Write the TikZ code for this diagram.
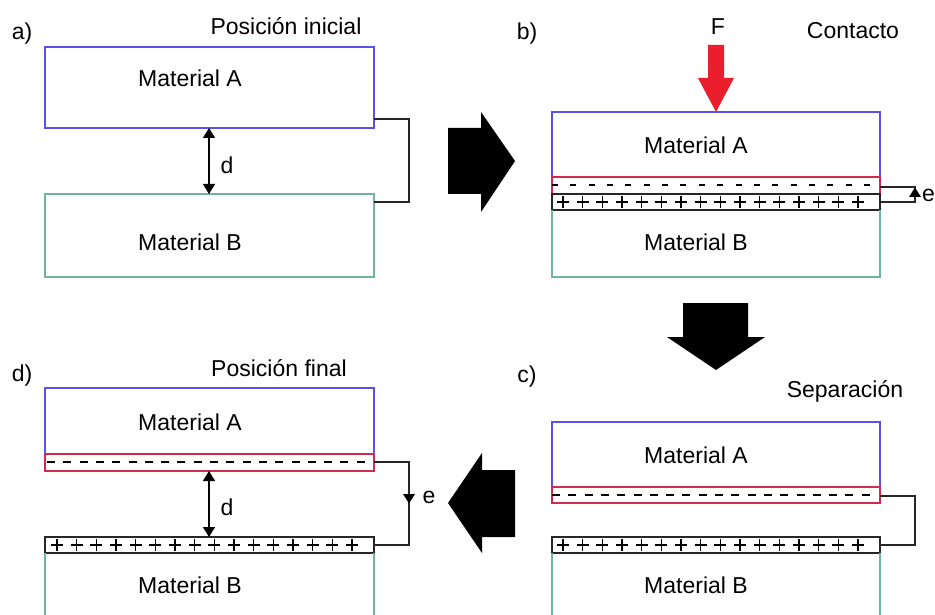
\documentclass[tikz,border=0pt]{standalone}
\usepackage{fontspec}
\setmainfont{Liberation Sans}
\usetikzlibrary{arrows.meta}
\definecolor{matA}{RGB}{90,80,240}
\definecolor{matB}{RGB}{110,180,160}
\definecolor{negc}{RGB}{215,40,80}
\definecolor{forcec}{RGB}{235,30,45}
\begin{document}
\begin{tikzpicture}[x=1pt,y=-1pt,
  every node/.style={font=\fontsize{23}{27}\selectfont, inner sep=0pt},
  boxA/.style={draw=matA, line width=1.3pt},
  boxB/.style={draw=matB, line width=1.3pt},
  negstrip/.style={draw=negc, line width=1.3pt},
  posstrip/.style={draw=black!85, line width=1.3pt},
  wire/.style={draw=black!85, line width=1.2pt},
  sign/.style={draw=black, line width=1.4pt},
  gap/.style={draw=black, line width=1.4pt, {Triangle[width=12pt,length=10pt]}-{Triangle[width=12pt,length=10pt]}},
  block/.style={fill=black, draw=none},
  tri/.style={fill=black, draw=none}]
\clip (0,0) rectangle (935,615);
\fill[white] (0,0) rectangle (935,615);

% ---------- panel a ----------
\node (la) at (22,34) {a)};
\node (ta) at (286,26) {Posición inicial};
\draw[boxA] (45,47) rectangle (374,128);
\draw[boxB] (45,194) rectangle (374,277);
\node (aA) at (190,78) {Material A};
\node (aB) at (190,242) {Material B};
\coordinate (aTop) at (209,128);
\coordinate (aBot) at (209,194);
\draw[gap] (aTop) -- (aBot);
\node (ad) at (227,165) {d};
\coordinate (aw1) at (374,119);
\coordinate (aw2) at (374,202);
\draw[wire] (aw1) -- (409,119) -- (409,202) -- (aw2);

% arrow a -> b
\fill[block] (448,128) -- (481,128) -- (481,112) -- (515,161) -- (481,212) -- (481,194) -- (448,194) -- cycle;

% ---------- panel b ----------
\node (lb) at (527,34) {b)};
\node (tF) at (718,27) {F};
\node (tb) at (853,31) {Contacto};
\fill[forcec] (708,45) -- (724,45) -- (724,78) -- (734,78) -- (716,112) -- (698,78) -- (708,78) -- cycle;
\draw[boxA] (552,177) -- (552,112) -- (880,112) -- (880,177);
\draw[negstrip] (552,177) rectangle (880,194);
\draw[posstrip] (552,194) rectangle (880,210);
\draw[boxB] (552,210) -- (552,277) -- (880,277) -- (880,210);
\node (bA) at (696,145) {Material A};
\node (bB) at (696,242) {Material B};
\foreach \i in {0,...,17} \draw[sign] ({555+\i*18.35-3},185) -- ++(6,0);
\foreach \i in {0,...,15} \draw[sign] ({563+\i*19.67-6},202) -- ++(12,0) ({563+\i*19.67},196) -- ++(0,12);
\coordinate (bw1) at (880,187);
\coordinate (bw2) at (880,202);
\draw[wire] (bw1) -- (915,187) -- (915,202) -- (bw2);
\fill[tri] (909,197) -- (921,197) -- (915,187.5) -- cycle;
\node[anchor=west] (be) at (922,195) {e};

% arrow b -> c
\fill[block] (683,303) -- (748,303) -- (748,337) -- (765,337) -- (716,370) -- (667,337) -- (683,337) -- cycle;

% ---------- panel c ----------
\node (lc) at (527,377) {c)};
\node (tc) at (845,391) {Separación};
\draw[boxA] (552,487) -- (552,422) -- (880,422) -- (880,487);
\draw[negstrip] (552,487) rectangle (880,503);
\draw[posstrip] (552,537) rectangle (880,553);
\draw[boxB] (552,553) -- (552,625) (880,625) -- (880,553);
\node (cA) at (696,455) {Material A};
\node (cB) at (696,585) {Material B};
\foreach \i in {0,...,19} \draw[sign] ({556+\i*16.3-4},495) -- ++(8,0);
\foreach \i in {0,...,15} \draw[sign] ({563+\i*19.67-6},545) -- ++(12,0) ({563+\i*19.67},539) -- ++(0,12);
\coordinate (cw1) at (880,496);
\coordinate (cw2) at (880,545);
\draw[wire] (cw1) -- (915,496) -- (915,545) -- (cw2);

% arrow c -> d
\fill[block] (515,470) -- (515,537) -- (482,537) -- (482,553) -- (448,503) -- (482,453) -- (482,470) -- cycle;

% ---------- panel d ----------
\node (ld) at (22,376) {d)};
\node (td) at (279,368) {Posición final};
\draw[boxA] (45,454) -- (45,388) -- (374,388) -- (374,454);
\draw[negstrip] (45,454) rectangle (374,471);
\draw[posstrip] (45,537) rectangle (374,553);
\draw[boxB] (45,553) -- (45,625) (374,625) -- (374,553);
\node (dA) at (190,422) {Material A};
\node (dB) at (190,585) {Material B};
\foreach \i in {0,...,19} \draw[sign] ({51+\i*16.3-4},462) -- ++(8,0);
\foreach \i in {0,...,15} \draw[sign] ({57+\i*19.67-6},545) -- ++(12,0) ({57+\i*19.67},539) -- ++(0,12);
\coordinate (dTop) at (209,471);
\coordinate (dBot) at (209,537);
\draw[gap] (dTop) -- (dBot);
\node (dd) at (227,507) {d};
\coordinate (dw1) at (374,462);
\coordinate (dw2) at (374,545);
\draw[wire] (dw1) -- (409,462) -- (409,545) -- (dw2);
\fill[tri] (403,494) -- (415,494) -- (409,503.5) -- cycle;
\node (de) at (429,497) {e};
\end{tikzpicture}
\end{document}
